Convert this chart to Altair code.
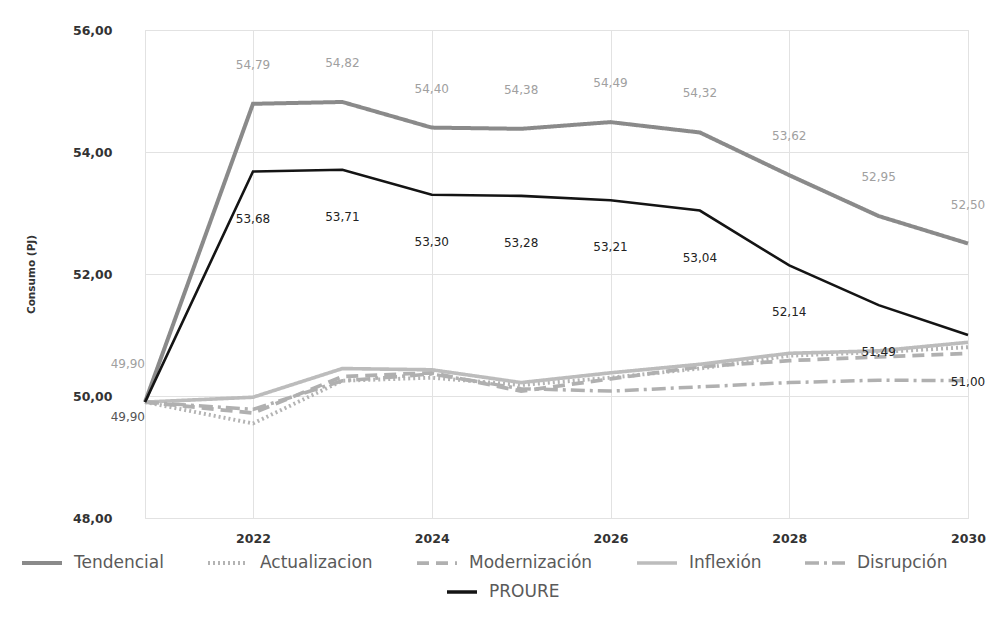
import altair as alt
import pandas as pd

years = [2021, 2022, 2023, 2024, 2025, 2026, 2027, 2028, 2029, 2030]

tendencial = [49.90, 54.79, 54.82, 54.40, 54.38, 54.49, 54.32, 53.62, 52.95, 52.50]
actualizacion = [49.90, 49.55, 50.25, 50.30, 50.18, 50.30, 50.45, 50.66, 50.72, 50.80]
modernizacion = [49.90, 49.72, 50.32, 50.38, 50.08, 50.28, 50.48, 50.58, 50.64, 50.70]
inflexion = [49.90, 49.98, 50.45, 50.43, 50.22, 50.38, 50.52, 50.70, 50.74, 50.88]
disrupcion = [49.90, 49.78, 50.25, 50.36, 50.12, 50.08, 50.15, 50.22, 50.26, 50.25]
proure = [49.90, 53.68, 53.71, 53.30, 53.28, 53.21, 53.04, 52.14, 51.49, 51.00]

escenarios = ["Tendencial", "Actualizacion", "Modernización", "Inflexión", "Disrupción"]
colores = ["#8a8a8a", "#b4b4b4", "#b0b0b0", "#bcbcbc", "#b0b0b0"]
trazos = [[1, 0], [2, 3], [12, 7], [1, 0], [14, 5, 3, 5]]
anchos = [4, 3.5, 3.5, 3.5, 3.5]

y_ticks = [48, 50, 52, 54, 56]
x_ticks = [2022, 2024, 2026, 2028, 2030]

FONT = "DejaVu Sans"


def fmt(v):
    return f"{v:.2f}".replace(".", ",")


rows = []
for name, vals in zip(escenarios, [tendencial, actualizacion, modernizacion, inflexion, disrupcion]):
    for yr, v in zip(years, vals):
        rows.append({"year": yr, "value": v, "Escenario": name, "label": fmt(v)})
df_esc = pd.DataFrame(rows)
df_pro = pd.DataFrame({"year": years, "value": proure, "Serie": "PROURE",
                       "label": [fmt(v) for v in proure]})
df_tend = df_esc[df_esc["Escenario"] == "Tendencial"]

xscale = alt.Scale(domain=[2021, 2022, 2030], range=[0, 108, 823], nice=False, zero=False)
yscale = alt.Scale(domain=[48, 56], nice=False, zero=False)

xaxis = alt.Axis(values=x_ticks, format="d", title=None, ticks=False, labelPadding=14,
                 labelFontSize=12.5, labelFontWeight="bold", labelColor="#333333",
                 labelFlush=False,
                 domainColor="#e2e2e2", gridColor="#e2e2e2", labelFont=FONT)
yaxis = alt.Axis(values=y_ticks, labelExpr="replace(format(datum.value, '.2f'), '.', ',')",
                 title="Consumo (PJ)", titleFontSize=10.5, titleFontWeight="bold",
                 titleColor="#333333", titleFont=FONT, titlePadding=36,
                 labelFontSize=12.5, labelFontWeight="bold", labelColor="#333333",
                 labelFont=FONT, ticks=False, labelPadding=33,
                 domainColor="#e2e2e2", gridColor="#e2e2e2")

X = alt.X("year:Q", scale=xscale, axis=xaxis)
Y = alt.Y("value:Q", scale=yscale, axis=yaxis)

legA = alt.Legend(title=None, orient="none", legendX=-125, legendY=511, direction="horizontal",
                  columns=5, symbolType="stroke", symbolSize=1600, symbolStrokeWidth=3.5,
                  labelFontSize=17, labelColor="#5a5a5a", labelFont=FONT,
                  columnPadding=36, padding=0, labelOffset=10)
legB = alt.Legend(title=None, orient="none", legendX=300, legendY=545, direction="horizontal",
                  symbolType="stroke", symbolSize=900, symbolStrokeWidth=3.5,
                  labelFontSize=17, labelColor="#5a5a5a", labelFont=FONT,
                  padding=0, labelOffset=10)

lines_esc = alt.Chart(df_esc).mark_line(strokeCap="butt").encode(
    x=X, y=Y,
    color=alt.Color("Escenario:N", scale=alt.Scale(domain=escenarios, range=colores),
                    sort=escenarios, legend=legA),
    strokeDash=alt.StrokeDash("Escenario:N", scale=alt.Scale(domain=escenarios, range=trazos),
                              sort=escenarios, legend=legA),
    strokeWidth=alt.StrokeWidth("Escenario:N", scale=alt.Scale(domain=escenarios, range=anchos),
                                legend=None),
    order=alt.Order("year:Q"),
)

line_pro = alt.Chart(df_pro).mark_line(strokeWidth=2.6).encode(
    x=X, y=Y,
    color=alt.Color("Serie:N", scale=alt.Scale(domain=["PROURE"], range=["#141414"]), legend=legB),
)

txt_tend = alt.Chart(df_tend).transform_filter("datum.year > 2021").mark_text(
    dy=-39, fontSize=12, color="#a0a0a0", font=FONT).encode(x=X, y=Y, text="label:N")
txt_tend0 = alt.Chart(df_tend).transform_filter("datum.year == 2021").mark_text(
    dy=-38, align="right", dx=0, fontSize=12, color="#a0a0a0", font=FONT).encode(x=X, y=Y, text="label:N")
txt_pro = alt.Chart(df_pro).transform_filter("datum.year > 2021").mark_text(
    dy=47, fontSize=12, color="#222222", font=FONT).encode(x=X, y=Y, text="label:N")
txt_pro0 = alt.Chart(df_pro).transform_filter("datum.year == 2021").mark_text(
    dy=15, align="right", dx=0, fontSize=12, color="#555555", font=FONT).encode(x=X, y=Y, text="label:N")

chart = alt.layer(lines_esc, line_pro, txt_tend, txt_tend0, txt_pro, txt_pro0).resolve_scale(
    color="independent", strokeDash="independent", strokeWidth="independent"
).properties(
    width=823, height=488,
    autosize=alt.AutoSizeParams(type="none"),
    padding={"left": 137, "top": 22, "right": 21, "bottom": 90},
).configure_view(strokeWidth=0).configure(background="white")

chart.save("out.html", embed_options={"renderer": "svg", "actions": False})
